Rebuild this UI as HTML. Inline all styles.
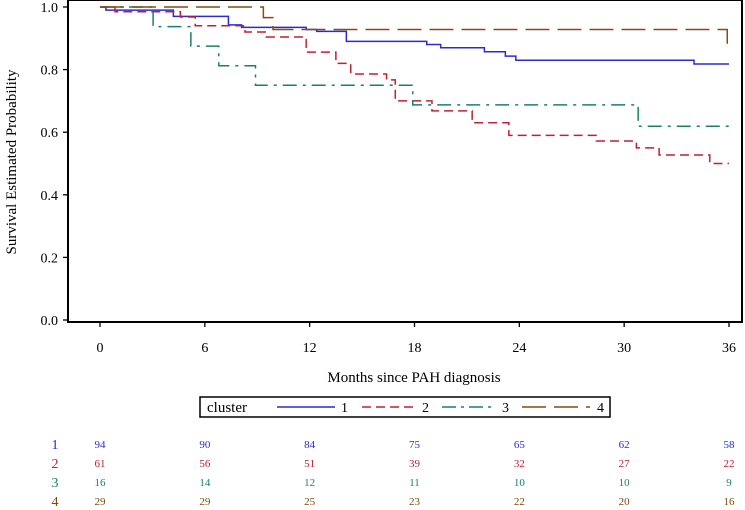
<!DOCTYPE html>
<html><head><meta charset="utf-8"><style>
html,body{margin:0;padding:0;background:#fff;}
svg{display:block;font-family:"Liberation Serif",serif;}
</style></head><body>
<svg id="chart" width="745" height="510" viewBox="0 0 745 510" xmlns="http://www.w3.org/2000/svg">
<rect x="68" y="0" width="674" height="322" fill="#fff" stroke="#000" stroke-width="2"/>
<g id="yaxis"></g>
<g id="xaxis"></g>
<g id="series"></g>
<text x="16" y="162" font-size="15" text-anchor="middle" transform="rotate(-90 16 162)">Survival Estimated Probability</text>
<text x="414" y="382" font-size="15" text-anchor="middle">Months since PAH diagnosis</text>
<g>
<rect x="200" y="397" width="410" height="20" fill="#fff" stroke="#000" stroke-width="1.5"/>
<text x="207" y="412" font-size="15">cluster</text>
<g><line x1="277" y1="407" x2="335" y2="407" stroke="#2b2bd0" stroke-width="1.5"/><text x="341" y="412" font-size="14">1</text></g>
<g><line x1="362" y1="407" x2="415" y2="407" stroke="#c02030" stroke-width="1.5" stroke-dasharray="9,5"/><text x="422" y="412" font-size="14">2</text></g>
<g><line x1="442" y1="407" x2="495" y2="407" stroke="#17806e" stroke-width="1.5" stroke-dasharray="14,5,3,5"/><text x="502" y="412" font-size="14">3</text></g>
<g><line x1="522" y1="407" x2="590" y2="407" stroke="#8a4a10" stroke-width="1.5" stroke-dasharray="24,8"/><text x="597" y="412" font-size="14">4</text></g>
</g>
<g id="risk"></g>
</svg>
<script>
const xTicks=[0,6,12,18,24,30,36];
const yTicks=[0.0,0.2,0.4,0.6,0.8,1.0];
const s1Times=[0,0.34,4.2,7.35,8.1,11.8,12.4,14.1,18.7,19.5,22.0,23.2,23.8,34.0];
const s1Vals=[1,0.99,0.97,0.943,0.935,0.928,0.922,0.89,0.88,0.87,0.857,0.843,0.83,0.818];
const s2Times=[0,0.86,4.6,5.45,8.3,9.5,11.8,13.5,14.35,16.4,16.9,19.0,21.3,23.4,28.4,30.7,32.0,34.9];
const s2Vals=[1,0.985,0.968,0.94,0.92,0.904,0.856,0.82,0.786,0.767,0.70,0.668,0.63,0.59,0.572,0.55,0.527,0.50];
const s3Times=[0,3.04,5.2,6.8,8.9,17.9,30.8];
const s3Vals=[1,0.9375,0.875,0.8125,0.75,0.6875,0.619];
const s4Times=[0,9.35,9.9,35.9];
const s4Vals=[1,0.966,0.928,0.87];
const riskGroups=["1","2","3","4"];
const risk1=[94,90,84,75,65,62,58];
const risk2=[61,56,51,39,32,27,22];
const risk3=[16,14,12,11,10,10,9];
const risk4=[29,29,25,23,22,20,16];
const NS="http://www.w3.org/2000/svg";
const X=m=>100+m*(629/36);
const Y=v=>320-v*313;
function mk(tag,attrs,parent){const e=document.createElementNS(NS,tag);for(const k in attrs)e.setAttribute(k,attrs[k]);parent.appendChild(e);return e;}
const ya=document.getElementById('yaxis'),xa=document.getElementById('xaxis');
yTicks.forEach(v=>{
  const l=mk('line',{x1:63,x2:68,y1:Y(v),y2:Y(v),stroke:'#000','stroke-width':1.3},ya);
  
  
  const t=mk('text',{x:58,y:Y(v)+5,'font-size':14,'text-anchor':'end'},ya);
  t.textContent=v.toFixed(1);
  
  
});
xTicks.forEach(m=>{
  const l=mk('line',{x1:X(m),x2:X(m),y1:322,y2:327,stroke:'#000','stroke-width':1.3},xa);
  
  
  const t=mk('text',{x:X(m),y:352,'font-size':14,'text-anchor':'middle'},xa);
  t.textContent=m;
  
  
});
const sg=document.getElementById('series');
function stepPath(ts,vs){let d='M'+X(ts[0])+','+Y(vs[0]);for(let i=1;i<ts.length;i++){d+=' H'+X(ts[i])+' V'+Y(vs[i]);}d+=' H'+X(36);return d;}
const defs=[[s1Times,s1Vals,'#2b2bd0','none','1'],[s2Times,s2Vals,'#c02030','9,5','2'],[s3Times,s3Vals,'#17806e','14,6,3,6','3'],[s4Times,s4Vals,'#8a4a10','24,8','4']];
defs.forEach(([ts,vs,c,da,n])=>{
  const p=mk('path',{d:stepPath(ts,vs),fill:'none',stroke:c,'stroke-width':1.5,'stroke-dasharray':da},sg);
  
  
});
const rg=document.getElementById('risk');
const rows=[risk1,risk2,risk3,risk4],cols=['#2b2bd0','#c02030','#17806e','#7a4a10'],ry=[449,468,487,506];
rows.forEach((r,i)=>{
  const lab=mk('text',{x:55,y:ry[i],'font-size':14,'text-anchor':'middle',fill:cols[i]},rg);
  lab.textContent=riskGroups[i];
  
  
  r.forEach((v,j)=>{
    const t=mk('text',{x:X(xTicks[j]),y:ry[i]-1,'font-size':11,'text-anchor':'middle',fill:cols[i]},rg);
    t.textContent=v;
    
    
  });
});
</script>
</body></html>
